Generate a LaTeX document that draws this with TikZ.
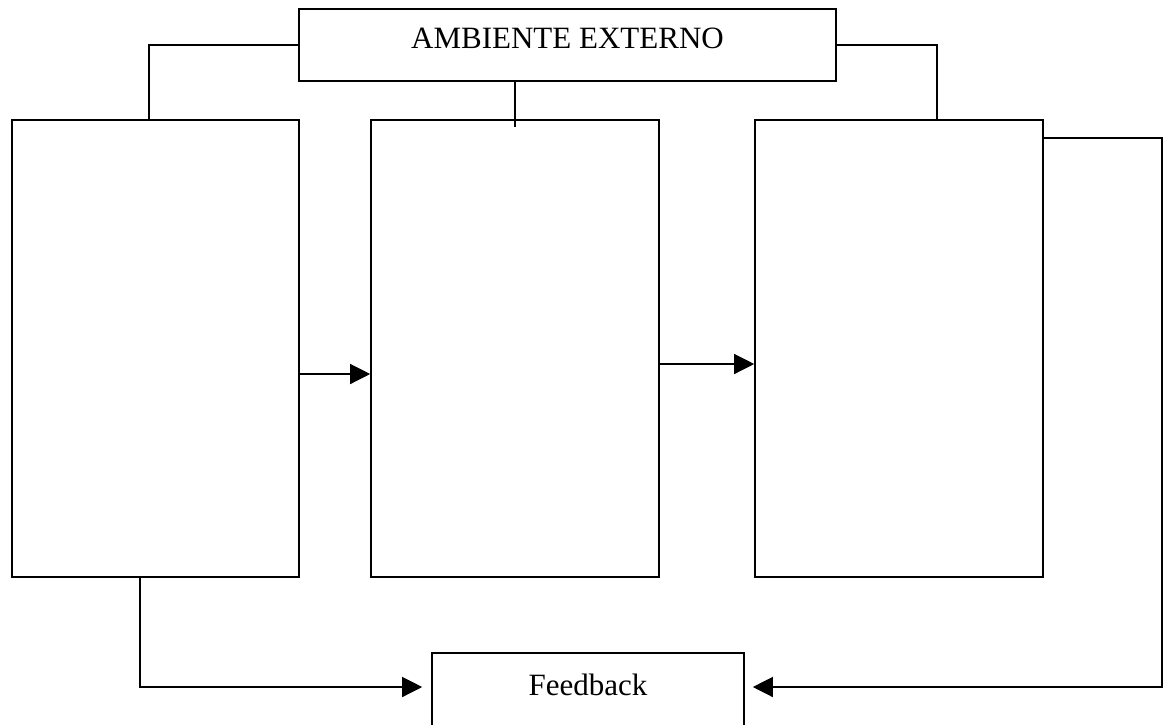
\documentclass[tikz,border=0pt]{standalone}
\usepackage{fontspec}
\setmainfont{Liberation Serif}
\usetikzlibrary{arrows.meta}
\begin{document}
\begin{tikzpicture}[x=1pt,y=-1pt,
  box/.style={draw,line width=1.6pt,inner sep=0pt},
  link/.style={line width=1.3pt},
  flow/.style={link,-{Triangle[length=20pt,width=20pt]}},
  caption/.style={font=\fontsize{31}{37}\selectfont}]
\path[use as bounding box] (0,0) rectangle (1167,724);
\clip (0,0) rectangle (1167,724);

% environment box on top
\node[box,caption,minimum width=537pt,minimum height=72pt,
      text height=20pt,text depth=14pt] (env) at (567.5,45) {AMBIENTE EXTERNO};

% three process blocks
\node[box,minimum width=287pt,minimum height=457pt] (lb) at (155.5,348.5) {};
\node[box,minimum width=288pt,minimum height=457pt] (mb) at (515,348.5) {};
\node[box,minimum width=288pt,minimum height=457pt] (rb) at (899,348.5) {};

% feedback box (runs past the lower edge)
\node[box,caption,minimum width=312pt,minimum height=77pt,
      text height=20pt,text depth=13pt] (fb) at (588,691.5) {Feedback};

% links from the environment to the blocks
\draw[link] (env.west) -| ([xshift=-6.5pt]lb.north);
\draw[link] (mb.north |- env.south) -- ([yshift=-8pt]mb.north);
\draw[link] (env.east) -| ([xshift=38pt]rb.north);

% flow between blocks
\draw[flow] (lb.east |- 0,374) -- (mb.west |- 0,374);
\draw[flow] (mb.east |- 0,364) -- (rb.west |- 0,364);

% feedback paths
\draw[flow] ([xshift=-15.5pt]lb.south) |- ([xshift=-9pt,yshift=4.5pt]fb.west);
\coordinate (turn) at (1162,138);
\draw[flow] (rb.east |- turn) -- (turn) |- ([xshift=8pt,yshift=4.5pt]fb.east);
\end{tikzpicture}
\end{document}
